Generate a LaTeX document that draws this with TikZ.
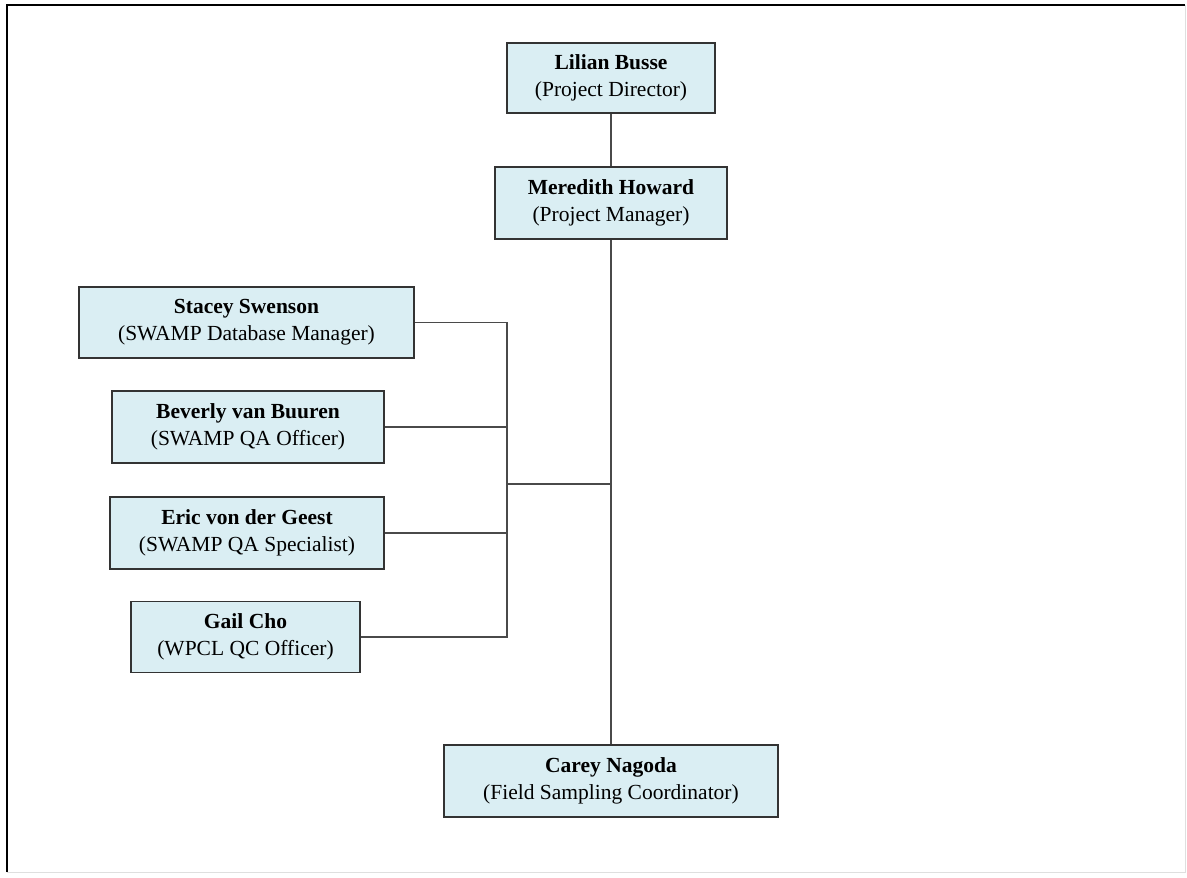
\documentclass[tikz,border=0pt]{standalone}
\usepackage{fontspec}
\setmainfont{Liberation Serif}
\definecolor{boxfill}{HTML}{DAEEF3}
\definecolor{boxline}{HTML}{333333}
\definecolor{linkline}{HTML}{4A4A4A}
\begin{document}
\begin{tikzpicture}[x=1pt,y=-1pt,
  person/.style={draw=boxline, fill=boxfill, line width=1.6pt, inner sep=0pt,
    align=center, font=\fontsize{21.5}{27}\selectfont},
  link/.style={draw=linkline, line width=1.6pt}]
\useasboundingbox (0,0) rectangle (1187,878);
% frame
\draw[black, line width=2.5pt] (7,872) -- (7,5) -- (1185,5);
\draw[gray!25, line width=1pt] (1185,5) -- (1185,872) -- (7,872);
% nodes
\node[person, minimum width=208pt, minimum height=70pt] (lilian) at (611,78)
  {\textbf{Lilian Busse}\\(Project Director)};
\node[person, minimum width=232pt, minimum height=72pt] (meredith) at (611,203)
  {\textbf{Meredith Howard}\\(Project Manager)};
\node[person, minimum width=335pt, minimum height=71pt] (stacey) at (246.5,322.5)
  {\textbf{Stacey Swenson}\\(SWAMP Database Manager)};
\node[person, minimum width=272pt, minimum height=72pt] (beverly) at (248,427)
  {\textbf{Beverly van Buuren}\\(SWAMP QA Officer)};
\node[person, minimum width=274pt, minimum height=72pt] (eric) at (247,533)
  {\textbf{Eric von der Geest}\\(SWAMP QA Specialist)};
\node[person, minimum width=229pt, minimum height=71pt] (gail) at (245.5,637)
  {\textbf{Gail Cho}\\(WPCL QC Officer)};
\node[person, minimum width=334pt, minimum height=72pt] (carey) at (611,781)
  {\textbf{Carey Nagoda}\\(Field Sampling Coordinator)};
% bus coordinates
\coordinate (bt) at (507,322.5);
\coordinate (bb) at (507,637);
\coordinate (bm) at (507,484);
% connectors
\draw[link] (lilian.south) -- (meredith.north);
\draw[link] (meredith.south) -- (carey.north);
\draw[link] (stacey.east) -- (bt) -- (bb) -- (gail.east);
\draw[link] (beverly.east) -- (beverly.east -| bt);
\draw[link] (eric.east) -- (eric.east -| bt);
\draw[link] (bm) -- (bm -| meredith.south);
\end{tikzpicture}
\end{document}
